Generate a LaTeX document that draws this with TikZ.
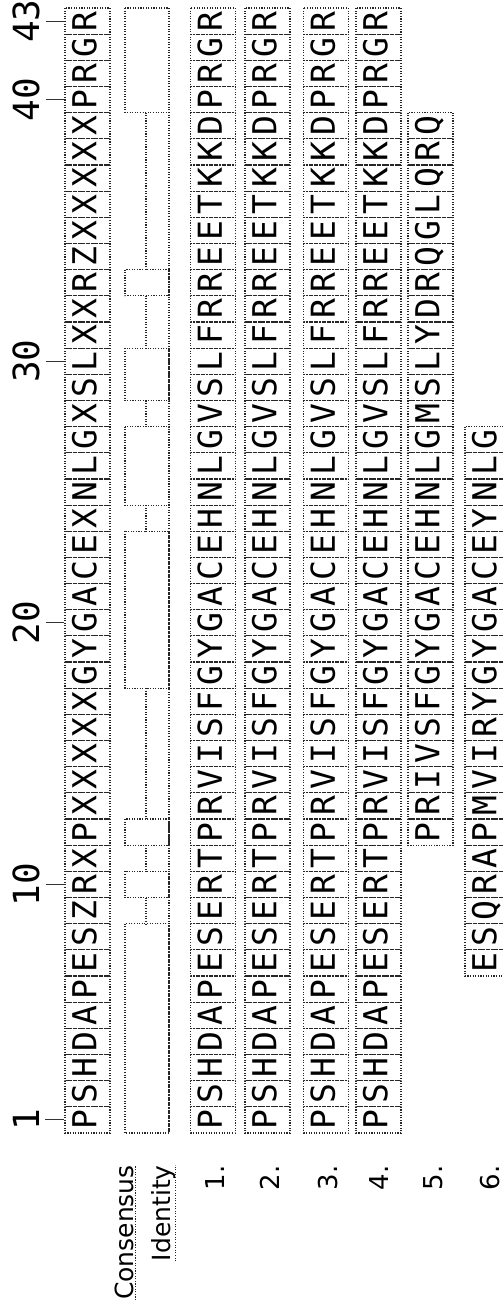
\documentclass[tikz,border=0pt]{standalone}
\usepackage{fontspec}
\newfontfamily\seqfont{DejaVu Sans Mono}
\newfontfamily\labfont{DejaVu Sans}
\def\cellh{26.163}
\def\ybot{1133}
\tikzset{
  dotline/.style={draw=black!85, line width=1.15pt, dash pattern=on 1.1pt off 1.5pt},
  cell/.style={dotline, rotate=90, minimum width=26.16pt, minimum height=45pt,
    inner sep=0pt, text height=23.5pt, text depth=6pt,
    font=\seqfont\fontsize{33pt}{33pt}\selectfont},
  num/.style={rotate=90, anchor=base, inner sep=0pt,
    font=\seqfont\fontsize{36pt}{36pt}\selectfont},
  lab/.style={rotate=90, anchor=base east, inner sep=0pt,
    font=\labfont\fontsize{25pt}{25pt}\selectfont},
  rowlab/.style={lab, font=\labfont\fontsize{26pt}{26pt}\selectfont},
  tickline/.style={draw=black!80, line width=1pt},
}
\newcommand\seqrow[4]{%
  \foreach \c [count=\i from #3] in {#4} {%
    \node[cell] (#1-\i) at (#2, {\ybot-(\i-0.5)*\cellh}) {\c};}}
\begin{document}
\begin{tikzpicture}[x=1pt,y=-1pt]
\useasboundingbox (0,0) rectangle (503,1308);
\clip (0,0) rectangle (503,1308);
% sequences
\seqrow{cons}{87.5}{1}{P,S,H,D,A,P,E,S,Z,R,X,P,X,X,X,X,X,G,Y,G,A,C,E,X,N,L,G,X,S,L,X,X,R,Z,X,X,X,X,X,P,R,G,R}
\seqrow{s1}{213}{1}{P,S,H,D,A,P,E,S,E,R,T,P,R,V,I,S,F,G,Y,G,A,C,E,H,N,L,G,V,S,L,F,R,R,E,E,T,K,K,D,P,R,G,R}
\seqrow{s2}{267.5}{1}{P,S,H,D,A,P,E,S,E,R,T,P,R,V,I,S,F,G,Y,G,A,C,E,H,N,L,G,V,S,L,F,R,R,E,E,T,K,K,D,P,R,G,R}
\seqrow{s3}{326}{1}{P,S,H,D,A,P,E,S,E,R,T,P,R,V,I,S,F,G,Y,G,A,C,E,H,N,L,G,V,S,L,F,R,R,E,E,T,K,K,D,P,R,G,R}
\seqrow{s4}{378.5}{1}{P,S,H,D,A,P,E,S,E,R,T,P,R,V,I,S,F,G,Y,G,A,C,E,H,N,L,G,V,S,L,F,R,R,E,E,T,K,K,D,P,R,G,R}
\seqrow{s5}{430.5}{12}{P,R,I,V,S,F,G,Y,G,A,C,E,H,N,L,G,M,S,L,Y,D,R,Q,G,L,Q,R,Q}
\seqrow{s6}{487.5}{7}{E,S,Q,R,A,P,M,V,I,R,Y,G,Y,G,A,C,E,Y,N,L,G}
% position numbers and ticks
\foreach \n in {1,10,20,30,40,43} {
  \node[num] (n\n) at (39, {\ybot-(\n-0.5)*\cellh}) {\n};
  \draw[tickline] ([xshift=6pt]n\n.south) -- (cons-\n.north);
}
% identity graph
\draw[dotline] (169, {\ybot-43*\cellh}) -- (169, \ybot);
\foreach \a/\b in {1/8,10/10,12/12,18/23,25/27,29/30,33/33,40/43}
  \draw[dotline] (125,{\ybot-\b*\cellh}) rectangle (169,{\ybot-(\a-1)*\cellh});
\foreach \a/\b in {9/9,11/11,13/17,24/24,28/28,31/32,34/39}
  \draw[dotline] (146,{\ybot-\b*\cellh}) -- (146,{\ybot-(\a-1)*\cellh});
% labels
\node[lab] (lcons) at (133,1165) {Consensus};
\node[lab] (lident) at (170,1165) {Identity};
\draw[dotline] ([xshift=2.5pt]lcons.base west) -- ([xshift=2.5pt]lcons.base east);
\draw[dotline] ([xshift=5.5pt]lident.base west) -- ([xshift=5.5pt]lident.base east);
\foreach \t/\x in {1/224,2/279,3/337,4/388,5/442,6/499}
  \node[rowlab] (r\t) at (\x,1165) {\t.};
\end{tikzpicture}
\end{document}
